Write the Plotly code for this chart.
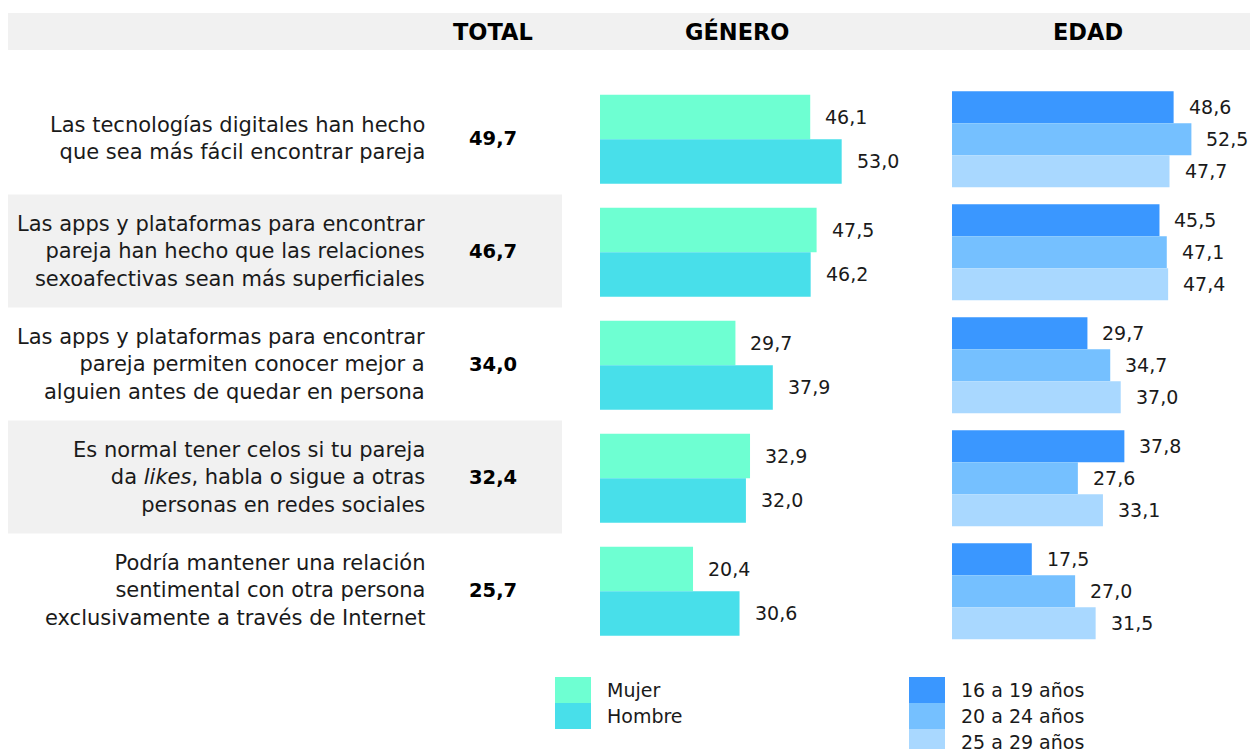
import plotly.graph_objects as go

# ---------------- data ----------------
statements = [
    "Las tecnologías digitales han hecho<br>que sea más fácil encontrar pareja",
    "Las apps y plataformas para encontrar<br>pareja han hecho que las relaciones<br>sexoafectivas sean más superficiales",
    "Las apps y plataformas para encontrar<br>pareja permiten conocer mejor a<br>alguien antes de quedar en persona",
    "Es normal tener celos si tu pareja<br>da <i>likes</i>, habla o sigue a otras<br>personas en redes sociales",
    "Podría mantener una relación<br>sentimental con otra persona<br>exclusivamente a través de Internet",
]
total = [49.7, 46.7, 34.0, 32.4, 25.7]

gender_names = ["Mujer", "Hombre"]
mujer = [46.1, 47.5, 29.7, 32.9, 20.4]
hombre = [53.0, 46.2, 37.9, 32.0, 30.6]

age_names = ["16 a 19 años", "20 a 24 años", "25 a 29 años"]
age_16_19 = [48.6, 45.5, 29.7, 37.8, 17.5]
age_20_24 = [52.5, 47.1, 34.7, 27.6, 27.0]
age_25_29 = [47.7, 47.4, 37.0, 33.1, 31.5]

headers = ["TOTAL", "GÉNERO", "EDAD"]

# ---------------- style ----------------
W, H = 1250, 749
FONT = "DejaVu Sans"
TXT = "#1a1a1a"
GREY = "#f1f1f1"
gender_colors = ["#6effd2", "#48dfea"]
age_colors = ["#3a97ff", "#75c0ff", "#a9d8ff"]

ROW_H = 113.0
ROW0 = 138.0  # pixel center of first row
BAR_SHIFT = 1.2 / ROW_H


def px_x(p):
    return p / W


def px_y(p):
    return 1 - p / H


rows = list(range(len(statements)))
y_range = [(H - ROW0) / ROW_H, (0 - ROW0) / ROW_H]

PX_PER_UNIT = 4.56
g_start, g_end = 600, 950
a_start, a_end = 952, 1250

fig = go.Figure()

# gender bars
gh = 44.5 / ROW_H
for i, (name, vals) in enumerate(zip(gender_names, [mujer, hombre])):
    fig.add_trace(go.Bar(
        y=rows, x=vals, orientation="h", name=name,
        marker=dict(color=gender_colors[i], line=dict(width=0)),
        width=gh, offset=-gh + i * gh + BAR_SHIFT,
        xaxis="x", yaxis="y", showlegend=False, hoverinfo="x+name",
    ))

# age bars
ah = 32 / ROW_H
for i, (name, vals) in enumerate(zip(age_names, [age_16_19, age_20_24, age_25_29])):
    fig.add_trace(go.Bar(
        y=rows, x=vals, orientation="h", name=name,
        marker=dict(color=age_colors[i], line=dict(width=0)),
        width=ah, offset=-1.5 * ah + i * ah + BAR_SHIFT,
        xaxis="x2", yaxis="y", showlegend=False, hoverinfo="x+name",
    ))


def fmt(v):
    return f"{v:.1f}".replace(".", ",")


annotations = []
VAL = 19
LBL = 21
# value labels
for i, vals in enumerate([mujer, hombre]):
    for r, v in zip(rows, vals):
        annotations.append(dict(
            x=v, y=r - gh / 2 + i * gh + BAR_SHIFT, xref="x", yref="y", text=fmt(v),
            showarrow=False, xanchor="left", yanchor="middle", xshift=13,
            font=dict(family=FONT, size=VAL, color=TXT)))
for i, vals in enumerate([age_16_19, age_20_24, age_25_29]):
    for r, v in zip(rows, vals):
        annotations.append(dict(
            x=v, y=r - ah + i * ah + BAR_SHIFT, xref="x2", yref="y", text=fmt(v),
            showarrow=False, xanchor="left", yanchor="middle", xshift=13,
            font=dict(family=FONT, size=VAL, color=TXT)))

# statements and totals
for r, s, t in zip(rows, statements, total):
    annotations.append(dict(
        x=px_x(427), y=r, xref="paper", yref="y", text=s, align="right",
        showarrow=False, xanchor="right", yanchor="middle",
        font=dict(family=FONT, size=LBL, color=TXT)))
    annotations.append(dict(
        x=px_x(493), y=r, xref="paper", yref="y", text=f"<b>{fmt(t)}</b>",
        showarrow=False, xanchor="center", yanchor="middle",
        font=dict(family=FONT, size=19.5, color="#000000")))

# headers
for h, cx in zip(headers, [493, 737, 1088]):
    annotations.append(dict(
        x=px_x(cx), y=px_y(32), xref="paper", yref="paper", text=f"<b>{h}</b>",
        showarrow=False, xanchor="center", yanchor="middle",
        font=dict(family=FONT, size=22.5, color="#000000")))

shapes = []
# header band
shapes.append(dict(type="rect", xref="paper", yref="paper",
                   x0=px_x(8), x1=px_x(1250), y0=px_y(50), y1=px_y(13),
                   fillcolor=GREY, line=dict(width=0), layer="below"))
# alternating row bands
for r in rows:
    if r % 2 == 1:
        shapes.append(dict(type="rect", xref="paper", yref="y",
                           x0=px_x(8), x1=px_x(562), y0=r - 0.5, y1=r + 0.5,
                           fillcolor=GREY, line=dict(width=0), layer="below"))


# custom legends
def legend_block(x0, names, colors, top):
    for k, (n, c) in enumerate(zip(names, colors)):
        y0 = top + k * 26
        shapes.append(dict(type="rect", xref="paper", yref="paper",
                           x0=px_x(x0), x1=px_x(x0 + 36), y0=max(px_y(y0 + 26), 0), y1=px_y(y0),
                           fillcolor=c, line=dict(width=0)))
        annotations.append(dict(
            x=px_x(x0 + 50), y=px_y(y0 + 13), xref="paper", yref="paper", text=n,
            showarrow=False, xanchor="left", yanchor="middle",
            font=dict(family=FONT, size=VAL, color=TXT)))


legend_block(555, gender_names, gender_colors, 677)
legend_block(909, age_names, age_colors, 677)

fig.update_layout(
    width=W, height=H,
    margin=dict(l=0, r=0, t=0, b=0),
    paper_bgcolor="white", plot_bgcolor="white",
    barmode="overlay",
    separators=",.",
    xaxis=dict(domain=[px_x(g_start), px_x(g_end)],
               range=[0, (g_end - g_start) / PX_PER_UNIT],
               visible=False, fixedrange=True),
    xaxis2=dict(domain=[px_x(a_start), px_x(a_end)],
                range=[0, (a_end - a_start) / PX_PER_UNIT],
                visible=False, fixedrange=True),
    yaxis=dict(domain=[0, 1], range=y_range, visible=False, fixedrange=True),
    shapes=shapes,
    annotations=annotations,
    showlegend=False,
    font=dict(family=FONT, color=TXT),
)

fig.write_html(
    "out.html",
    config={"displayModeBar": False},
    post_script="document.body.style.margin='0';document.body.style.overflow='hidden';",
)
